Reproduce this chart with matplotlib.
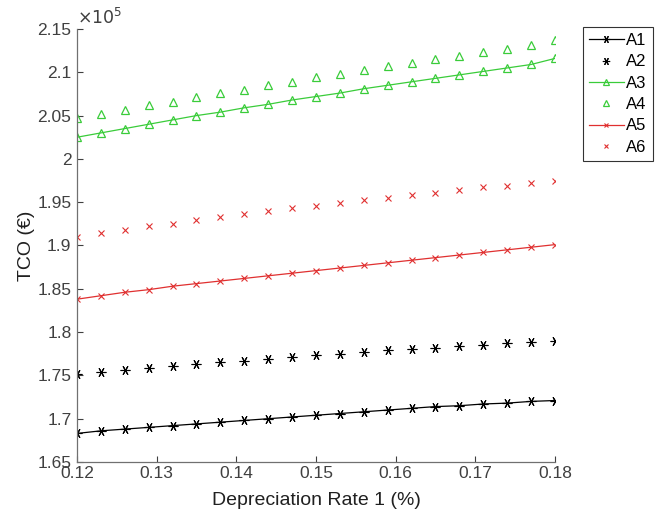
import numpy as np
import matplotlib.pyplot as plt

plt.rcParams["font.family"] = ["Liberation Sans", "DejaVu Sans"]

# depreciation rate 1 (fraction)
rate = [0.120, 0.123, 0.126, 0.129, 0.132, 0.135, 0.138, 0.141, 0.144, 0.147, 0.150,
        0.153, 0.156, 0.159, 0.162, 0.165, 0.168, 0.171, 0.174, 0.177, 0.180]

# TCO in units of 1e5 EUR
a1 = [1.683, 1.686, 1.688, 1.690, 1.692, 1.694, 1.696, 1.698, 1.700, 1.702, 1.704,
      1.706, 1.708, 1.710, 1.712, 1.714, 1.715, 1.717, 1.718, 1.720, 1.721]
a2 = [1.752, 1.754, 1.756, 1.758, 1.761, 1.763, 1.765, 1.767, 1.769, 1.771, 1.773,
      1.775, 1.777, 1.779, 1.780, 1.782, 1.784, 1.785, 1.787, 1.789, 1.790]
a3 = [2.025, 2.030, 2.035, 2.040, 2.045, 2.050, 2.054, 2.059, 2.063, 2.068, 2.072,
      2.076, 2.081, 2.085, 2.089, 2.093, 2.097, 2.101, 2.105, 2.109, 2.116]
a4 = [2.047, 2.052, 2.057, 2.062, 2.066, 2.071, 2.076, 2.080, 2.085, 2.089, 2.094,
      2.098, 2.103, 2.107, 2.111, 2.115, 2.119, 2.123, 2.127, 2.131, 2.137]
a5 = [1.838, 1.842, 1.846, 1.849, 1.853, 1.856, 1.859, 1.862, 1.865, 1.868, 1.871,
      1.874, 1.877, 1.880, 1.883, 1.886, 1.889, 1.892, 1.895, 1.898, 1.901]
a6 = [1.910, 1.914, 1.918, 1.922, 1.925, 1.929, 1.933, 1.936, 1.940, 1.943, 1.946,
      1.949, 1.952, 1.955, 1.958, 1.961, 1.964, 1.967, 1.969, 1.972, 1.975]

labels = ["A1", "A2", "A3", "A4", "A5", "A6"]
xticks = [0.12, 0.13, 0.14, 0.15, 0.16, 0.17, 0.18]
yticks = [1.65, 1.7, 1.75, 1.8, 1.85, 1.9, 1.95, 2.0, 2.05, 2.1, 2.15]

black = "#000000"
green = "#3acc3a"
red = "#e03030"
gray = "#404040"
asterisk = (6, 2, 90)  # matlab-style '*'

fig = plt.figure(figsize=(6.61, 5.24), dpi=100)
ax = fig.add_axes([0.1165, 0.1183, 0.7231, 0.8264])

ax.plot(rate, a1, color=black, lw=0.9, marker=asterisk, ms=7, mew=0.8, label=labels[0])
ax.plot(rate, a2, color=black, ls="none", marker=asterisk, ms=7, mew=0.8, label=labels[1])
ax.plot(rate, a3, color=green, lw=0.9, marker="^", ms=6, mfc="none", mew=0.9, label=labels[2])
ax.plot(rate, a4, color=green, ls="none", marker="^", ms=6, mfc="none", mew=0.9, label=labels[3])
ax.plot(rate, a5, color=red, lw=0.9, marker="x", ms=4.5, mew=0.8, label=labels[4])
ax.plot(rate, a6, color=red, ls="none", marker="x", ms=4.5, mew=0.8, label=labels[5])

ax.set_xlim(0.12, 0.18)
ax.set_ylim(1.65, 2.15)
ax.set_xticks(xticks)
ax.set_yticks(yticks)
ax.set_xticklabels([f"{t:g}" for t in xticks])
ax.set_yticklabels([f"{t:g}" for t in yticks])
ax.tick_params(direction="in", length=4, width=0.8, colors=gray, labelsize=12.5)
ax.tick_params(axis="x", pad=3)
ax.tick_params(axis="y", pad=4)

for side in ["top", "right"]:
    ax.spines[side].set_visible(False)
for side in ["left", "bottom"]:
    ax.spines[side].set_color("#707070")
    ax.spines[side].set_linewidth(0.9)

ax.set_xlabel("Depreciation Rate 1 (%)", fontsize=14, color="#202020", labelpad=8)
ax.set_ylabel("TCO (€)", fontsize=14, color="#202020", labelpad=2)
ax.text(0.0, 1.005, r"$\times10^5$", transform=ax.transAxes, fontsize=12.5,
        color=gray, ha="left", va="bottom")

leg = ax.legend(loc="upper left", bbox_to_anchor=(1.0586, 1.004), fontsize=12,
                frameon=True, fancybox=False, edgecolor="black", handlelength=2.1,
                handletextpad=0.15, borderpad=0.35, labelspacing=0.38, borderaxespad=0,
                markerscale=0.75)
leg.get_frame().set_linewidth(0.8)

fig.savefig("out.png", dpi=100)
